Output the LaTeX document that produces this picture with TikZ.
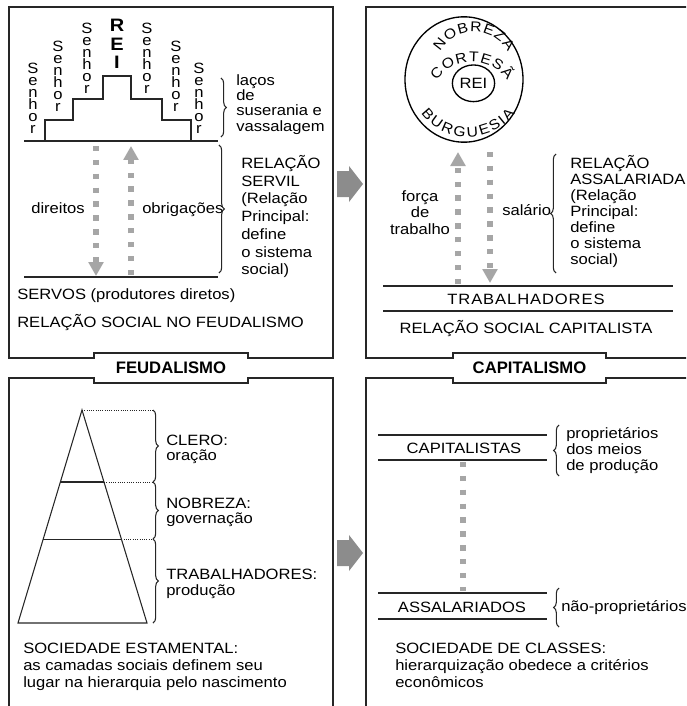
\documentclass[tikz,border=0pt]{standalone}
\usepackage{fontspec}
\setmainfont{Liberation Sans}[FakeStretch=1.11]
\newfontfamily\titlefont{Liberation Sans}
\usepackage{tikz}
\usetikzlibrary{arrows.meta, calc, shapes.geometric, decorations.pathreplacing, decorations.text}
\newcommand{\fs}[1]{\fontsize{11.2}{#1}\selectfont}
\newcommand{\circfont}{\fontsize{10.6}{12}\selectfont}
\tikzstyle{panel} = [line width=1pt, draw=black!85]
\tikzstyle{rule} = [line width=0.8pt, draw=black!85]
\tikzstyle{dotline} = [densely dotted, line width=0.7pt, draw=black!85]
\tikzstyle{dotarrow} = [line width=4pt, draw=black!35, dash pattern=on 4pt off 6.4pt, -{Triangle[width=11pt,length=10.5pt]}]
\tikzstyle{dotlink} = [line width=4pt, draw=black!35, dash pattern=on 4pt off 6.4pt]
\tikzstyle{bracer} = [decorate, decoration={brace, amplitude=4pt}, line width=0.8pt, draw=black!85]
\tikzstyle{txt} = [inner sep=0pt, font=\fs{13}]
\tikzstyle{senhor} = [inner sep=0pt, anchor=north, align=center, font=\fontsize{11.2}{9}\selectfont]
\tikzstyle{title} = [inner sep=0pt, font=\titlefont\bfseries\fontsize{12.5}{14}\selectfont]
\tikzstyle{blockarrow} = [fill=black!45]

\begin{document}
\begin{tikzpicture}[x=0.75pt, y=0.75pt]
	\useasboundingbox (0,0) rectangle (686,-706);
	\clip (0,0) rectangle (686,-706);

	\draw[panel] (9,-358) -- (9,-7) -- (333,-7) -- (333,-358) -- (248,-358) -- (248,-353) -- (94,-353) -- (94,-358) -- cycle;
	\draw[panel] (690,-7) -- (366,-7) -- (366,-358) -- (453,-358) -- (453,-353) -- (606,-353) -- (606,-358) -- (690,-358);
	\draw[panel] (9,-712) -- (9,-378) -- (94,-378) -- (94,-383) -- (248,-383) -- (248,-378) -- (333,-378) -- (333,-712);
	\draw[panel] (366,-712) -- (366,-378) -- (453,-378) -- (453,-383) -- (606,-383) -- (606,-378) -- (690,-378);
	\node (feud) [title] at (171,-368) {FEUDALISMO};
	\node (capit) [title] at (529.5,-368) {CAPITALISMO};

	\fill[blockarrow] (337,-171) -- (349,-171) -- (349,-166) -- (363,-184) -- (349,-202) -- (349,-197) -- (337,-197) -- cycle;
	\fill[blockarrow] (337,-540) -- (349,-540) -- (349,-535) -- (363,-553) -- (349,-571) -- (349,-566) -- (337,-566) -- cycle;

	\draw[rule] (24,-141) -- (218,-141);
	\draw[rule] (45,-141) -- (45,-120) -- (73,-120) -- (73,-99) -- (103,-99) -- (103,-76) -- (131,-76) -- (131,-99) -- (162,-99) -- (162,-120) -- (191,-120) -- (191,-141);
	\node (s1) [senhor] at (33,-63) {S\\e\\n\\h\\o\\r};
	\node (s2) [senhor] at (58,-41) {S\\e\\n\\h\\o\\r};
	\node (s3) [senhor] at (87,-23) {S\\e\\n\\h\\o\\r};
	\node (rei) [senhor, font=\bfseries\fontsize{13.5}{14}\selectfont] at (117,-19) {R\\E\\I};
	\node (s4) [senhor] at (147,-23) {S\\e\\n\\h\\o\\r};
	\node (s5) [senhor] at (176,-41) {S\\e\\n\\h\\o\\r};
	\node (s6) [senhor] at (199,-63) {S\\e\\n\\h\\o\\r};
	\draw[bracer] (221,-78) -- (221,-137);
	\node (lacos) [txt, anchor=north west, align=left, font=\fs{11.5}] at (236,-74) {laços\\de\\suserania e\\vassalagem};

	\coordinate (dirTop) at (96,-146);
	\coordinate (dirBot) at (96,-276);
	\coordinate (obrBot) at (131,-275);
	\coordinate (obrTop) at (131,-146);
	\draw[dotarrow] (dirTop) -- (dirBot);
	\draw[dotarrow] (obrBot) -- (obrTop);
	\node (dir) [txt, anchor=base east] at (85,-213) {direitos};
	\node (obr) [txt, anchor=base west] at (142,-213) {obrigações};
	\draw[bracer] (219,-145) -- (219,-273);
	\node (servil) [txt, anchor=north west, align=left, font=\fs{13.3}] at (241,-155) {RELAÇÃO\\SERVIL\\(Relação\\Principal:\\define\\o sistema\\social)};
	\draw[rule] (24,-277) -- (218,-277);
	\node (servos) [txt, anchor=base west] at (17,-299) {SERVOS (produtores diretos)};
	\node (relfeud) [txt, anchor=base west] at (17,-327) {RELAÇÃO SOCIAL NO FEUDALISMO};

	\node (corte) [draw, ellipse, line width=1pt, minimum width=88.5pt, minimum height=94pt, inner sep=0pt] at (464,-79.5) {};
	\node (rei2) [txt, draw, ellipse, line width=1pt, minimum width=31.7pt, minimum height=27.5pt] at (473.5,-83.3) {REI};
	\path[decorate, decoration={text along path, text={|\circfont|NOBREZA}, text align={fit to path}}] (474,-71) ++(150:39) arc[start angle=150, end angle=30, radius=39];
	\path[decorate, decoration={text along path, text={|\circfont|CORTESÃ}, text align={fit to path}}] (472,-105) ++(145:43) arc[start angle=145, end angle=35, radius=43];
	\path[decorate, decoration={text along path, text={|\circfont|BURGUESIA}, text align={fit to path}}] (468,-79) ++(216:58) arc[start angle=216, end angle=324, radius=58];

	\coordinate (forBot) at (458,-284);
	\coordinate (forTop) at (458,-152);
	\coordinate (salTop) at (490,-152);
	\coordinate (salBot) at (490,-283);
	\draw[dotarrow] (forBot) -- (forTop);
	\draw[dotarrow] (salTop) -- (salBot);
	\node (forca) [txt, anchor=north, align=center, font=\fs{12.4}] at (420,-190) {força\\de\\trabalho};
	\node (salario) [txt, anchor=base west] at (502,-215) {salário};
	\draw[bracer] (556,-273) -- (556,-154);
	\node (assal) [txt, anchor=north west, align=left, font=\fs{12}] at (570,-155) {RELAÇÃO\\ASSALARIADA\\(Relação\\Principal:\\define\\o sistema\\social)};
	\draw[rule] (383,-286) -- (673,-286);
	\draw[rule] (383,-311) -- (673,-311);
	\node (trab) [txt] at (526,-299) {\addfontfeature{LetterSpace=6}TRABALHADORES};
	\node (relcap) [txt, anchor=base] at (526,-333) {RELAÇÃO SOCIAL CAPITALISTA};

	\coordinate (apex) at (82,-410);
	\coordinate (bl) at (18,-623);
	\coordinate (br) at (147,-623);
	\coordinate (dotEnd) at (153,-410);
	\coordinate (n1) at ($(apex)!0.338!(br)$);
	\coordinate (n2) at ($(apex)!0.606!(br)$);
	\draw[rule] (apex) -- (bl) -- (br) -- cycle;
	\draw[rule] ($(apex)!0.338!(bl)$) -- (n1);
	\draw[rule] ($(apex)!0.606!(bl)$) -- (n2);
	\draw[dotline] (apex) -- (dotEnd);
	\draw[dotline] (n1) -- (n1 -| dotEnd);
	\draw[dotline] (n2) -- (n2 -| dotEnd);
	\draw[bracer] (153,-410) -- (153,-482);
	\draw[bracer] (153,-482) -- (153,-539);
	\draw[bracer] (153,-539) -- (153,-623);
	\node (clero) [txt, anchor=north west, align=left, font=\fs{11.3}] at (166,-435) {CLERO:\\oração};
	\node (nobreza) [txt, anchor=north west, align=left, font=\fs{11.3}] at (166,-498) {NOBREZA:\\governação};
	\node (trabf) [txt, anchor=north west, align=left, font=\fs{11.5}] at (166,-569) {TRABALHADORES:\\produção};
	\node (estam) [txt, anchor=north west, align=left, font=\fs{12.5}] at (23,-643) {SOCIEDADE ESTAMENTAL:\\as camadas sociais definem seu\\lugar na hierarquia pelo nascimento};

	\draw[rule] (378,-435) -- (547,-435);
	\draw[rule] (378,-460) -- (547,-460);
	\node (capitalistas) [txt] at (464,-448) {CAPITALISTAS};
	\draw[bracer] (559,-476) -- (559,-425);
	\node (propr) [txt, anchor=north west, align=left, font=\fs{12}] at (566,-427) {proprietários\\dos meios\\de produção};
	\coordinate (linkTop) at (463,-462);
	\coordinate (linkBot) at (463,-591);
	\draw[dotlink] (linkTop) -- (linkBot);
	\draw[rule] (378,-593) -- (547,-593);
	\draw[rule] (378,-619) -- (547,-619);
	\node (assalariados) [txt] at (462,-607) {ASSALARIADOS};
	\draw[bracer] (559,-627) -- (559,-588);
	\node (naoprop) [txt, anchor=base west] at (561,-611) {não-proprietários};
	\node (classes) [txt, anchor=north west, align=left, font=\fs{12.5}] at (395,-643) {SOCIEDADE DE CLASSES:\\hierarquização obedece a critérios\\econômicos};

\end{tikzpicture}
\end{document}
